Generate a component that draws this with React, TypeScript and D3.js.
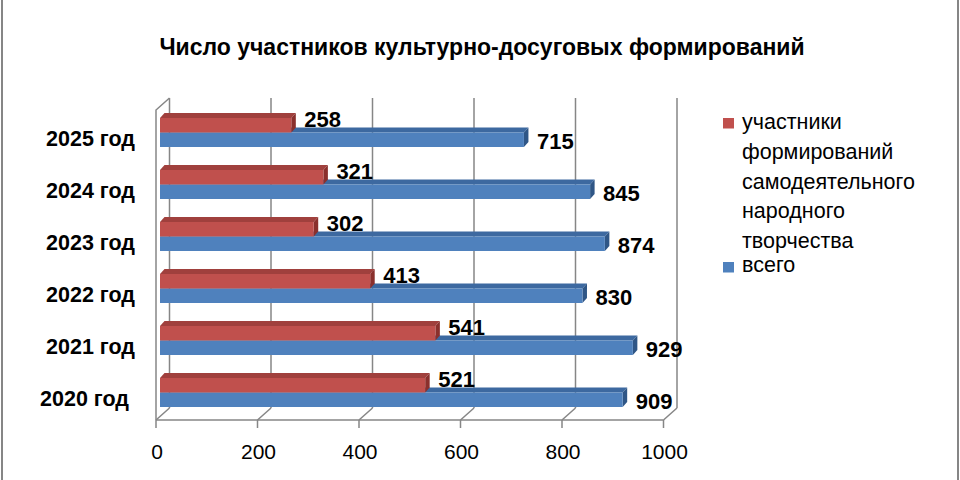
import React from "react";
import * as d3 from "d3";

const categories = ["2020 год", "2021 год", "2022 год", "2023 год", "2024 год", "2025 год"];
const participants = [521, 541, 413, 302, 321, 258];
const totals = [909, 929, 830, 874, 845, 715];
const tickValues = [0, 200, 400, 600, 800, 1000];
const seriesNames = ["участники формирований самодеятельного народного творчества", "всего"];
const legendLines = ["участники", "формирований", "самодеятельного", "народного", "творчества"];

const FONT = "'Liberation Sans', Arial, sans-serif";

// 3D-ish colours (front / top / end faces)
const RED = { front: "#C0504D", top: "#A0403D", end: "#8A302D" };
const BLUE = { front: "#4F81BD", top: "#3D69A0", end: "#2F5686" };

export default function App() {
  const width = 960;
  const height = 480;

  // floor front edge and bar scale
  const xFront = d3.scaleLinear().domain([0, 1000]).range([156, 663.5]);
  const xBar = d3.scaleLinear().domain([0, 1000]).range([160, 669]);
  const wallDx = 13.5;
  const wallDy = -12;
  const floorY = 420;
  const wallTop = 98;

  const y0 = d3
    .scaleBand()
    .domain([...categories].reverse())
    .range([106, 418])
    .padding(0);
  const y1 = d3.scaleBand().domain(["red", "blue"]).range([-14, 15]).padding(0);

  const barDx = 4.5;
  const barDy = -5;

  const rows = categories.map((c, i) => ({ cat: c, red: participants[i], blue: totals[i] }));

  const bar = (key: string, cat: string, v: number, col: typeof RED) => {
    const xa = xBar(0);
    const xb = xBar(v);
    const ya = y0(cat)! + y0.bandwidth() / 2 + y1(key)!;
    const yb = ya + y1.bandwidth();
    const top = `${xa},${ya} ${xa + barDx},${ya + barDy} ${xb + barDx},${ya + barDy} ${xb},${ya}`;
    const end = `${xb},${ya} ${xb + barDx},${ya + barDy} ${xb + barDx},${yb + barDy} ${xb},${yb}`;
    return (
      <g key={key + cat}>
        <polygon points={top} fill={col.top} />
        <polygon points={end} fill={col.end} />
        <rect x={xa} y={ya} width={xb - xa} height={yb - ya} fill={col.front} />
      </g>
    );
  };

  return (
    <div style={{ position: "absolute", left: 0, top: 0 }}>
      <svg width={width} height={height} style={{ display: "block", background: "#fff" }}>
        {/* chart border */}
        <line x1={2} x2={2} y1={0} y2={height} stroke="#868686" strokeWidth={2} />
        <line x1={958} x2={958} y1={0} y2={height} stroke="#868686" strokeWidth={2} />

        <text x={482} y={55} textAnchor="middle" fontFamily={FONT} fontWeight="bold" fontSize={23} fill="#000">
          Число участников культурно-досуговых формирований
        </text>

        {/* walls and grid */}
        <g stroke="#868686" strokeWidth={1.5} fill="none">
          {tickValues.map((t) => (
            <g key={t}>
              <line x1={xFront(t) + wallDx} x2={xFront(t) + wallDx} y1={wallTop} y2={floorY + wallDy} />
              <line x1={xFront(t)} y1={floorY} x2={xFront(t) + wallDx} y2={floorY + wallDy} />
              <line x1={xFront(t)} x2={xFront(t)} y1={floorY} y2={floorY + 8} />
            </g>
          ))}
          <line x1={xFront(0)} x2={xFront(1000)} y1={floorY} y2={floorY} />
          <polyline
            points={`${xFront(0)},${floorY} ${xFront(0)},${wallTop - wallDy} ${xFront(0) + wallDx},${wallTop}`}
          />
        </g>

        {/* bars: blue first, red over it */}
        {rows.map((r) => bar("blue", r.cat, r.blue, BLUE))}
        {rows.map((r) => bar("red", r.cat, r.red, RED))}

        {/* value labels */}
        <g fontFamily={FONT} fontWeight="bold" fontSize={22} fill="#000">
          {rows.map((r) => (
            <g key={r.cat}>
              <text x={xBar(r.red) + 13} y={y0(r.cat)! + y0.bandwidth() / 2 - 5}>
                {r.red}
              </text>
              <text x={xBar(r.blue) + 13} y={y0(r.cat)! + y0.bandwidth() / 2 + 16.5}>
                {r.blue}
              </text>
            </g>
          ))}
        </g>

        {/* category labels */}
        <g fontFamily={FONT} fontWeight="bold" fontSize={21.5} fill="#000" textAnchor="end">
          {categories.map((c) => (
            <text key={c} x={c === "2020 год" ? 129 : 135} y={y0(c)! + y0.bandwidth() / 2 + 13.5}>
              {c}
            </text>
          ))}
        </g>

        {/* x tick labels */}
        <g fontFamily={FONT} fontSize={21} fill="#000" textAnchor="middle">
          {tickValues.map((t) => (
            <text key={t} x={xFront(t) + 1} y={459}>
              {t}
            </text>
          ))}
        </g>

        {/* legend */}
        <g fontFamily={FONT} fontSize={21.5} fill="#000">
          <rect x={723} y={118} width={11} height={10.5} fill={RED.front}>
            <title>{seriesNames[0]}</title>
          </rect>
          {legendLines.map((l, i) => (
            <text key={l} x={742} y={129 + i * 29.75}>
              {l}
            </text>
          ))}
          <rect x={723} y={262} width={11} height={10.5} fill={BLUE.front}>
            <title>{seriesNames[1]}</title>
          </rect>
          <text x={742} y={272}>
            {seriesNames[1]}
          </text>
        </g>
      </svg>
    </div>
  );
}
